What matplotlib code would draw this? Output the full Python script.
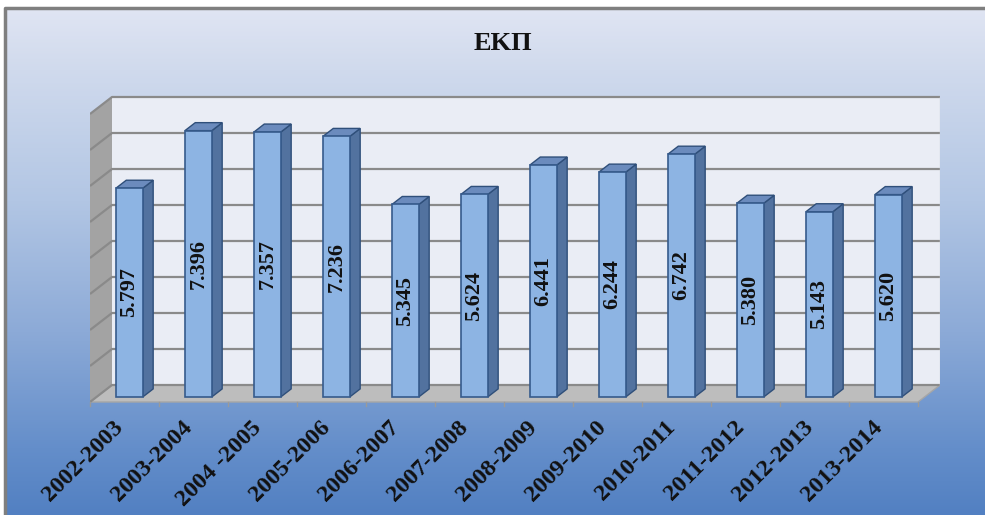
import numpy as np
import matplotlib.pyplot as plt
from matplotlib.patches import Polygon

# data
seasons = ['2002-2003', '2003-2004', '2004 -2005', '2005-2006', '2006-2007', '2007-2008',
           '2008-2009', '2009-2010', '2010-2011', '2011-2012', '2012-2013', '2013-2014']
values = [5.797, 7.396, 7.357, 7.236, 5.345, 5.624, 6.441, 6.244, 6.742, 5.380, 5.143, 5.620]
labels = ['5.797', '7.396', '7.357', '7.236', '5.345', '5.624',
          '6.441', '6.244', '6.742', '5.380', '5.143', '5.620']
title = 'ΕΚΠ'
ymax = 8

W, H = 985, 515
fig = plt.figure(figsize=(W / 100, H / 100), dpi=100)
fig.patch.set_facecolor('white')

# background gradient panel
bg = fig.add_axes([0, 0, 1, 1])
bg.set_xlim(0, W)
bg.set_ylim(H, 0)
bg.axis('off')
stops = [0.0, 0.12, 0.38, 0.64, 0.87, 1.0]
cols = np.array([[224, 229, 243], [208, 218, 237], [178, 198, 228],
                 [140, 170, 215], [100, 142, 202], [82, 128, 194]]) / 255
t = np.linspace(0, 1, 256)
grad = np.stack([np.interp(t, stops, cols[:, k]) for k in range(3)], axis=-1)[:, None, :]
bg.imshow(grad, extent=(5, W, H, 8), aspect='auto', zorder=0)
bg.plot([5, 5, W], [H, 8, 8], color='#7f7f7f', lw=2.5, zorder=1)
bg.text(503, 43, title, ha='center', va='center', fontsize=19, fontweight='bold',
        family='Liberation Serif', color='#111111')

# main plot area, scale: 69 px per category, 36 px per unit
ax = fig.add_axes([90 / W, 1 - 404 / H, 850 / W, 310 / H])
ax.set_xlim(0, 850 / 69)
ax.set_ylim(-2 / 36, -2 / 36 + 310 / 36)
ax.axis('off')
ax.patch.set_alpha(0)

DX, DY = 22 / 69, 17 / 36  # depth of the 3D box in data units
n = len(values)


def P(x, v, d):
    return (x + d * DX, v + d * DY)


# walls and floor
ax.add_patch(Polygon([P(0, 0, 1), P(n, 0, 1), P(n, ymax, 1), P(0, ymax, 1)],
                     closed=True, fc='#eaedf5', ec='none', zorder=1))
ax.add_patch(Polygon([P(0, 0, 0), P(0, 0, 1), P(0, ymax, 1), P(0, ymax, 0)],
                     closed=True, fc='#a3a3a3', ec='none', zorder=1))
ax.add_patch(Polygon([P(0, 0, 0), P(n, 0, 0), P(n, 0, 1), P(0, 0, 1)],
                     closed=True, fc='#bdbdbd', ec='#a6a6a6', lw=1, zorder=2))
for g in range(ymax + 1):
    xs, ys = zip(P(0, g, 0), P(0, g, 1), P(n, g, 1))
    ax.plot(xs, ys, color='#8a8a8a', lw=1.6, zorder=2, solid_capstyle='butt')
ax.plot(*zip(P(n, 0, 1), P(n, ymax, 1)), color='#d0d4dc', lw=1, zorder=2)
for i in range(n + 1):
    ax.plot([i, i], [0, -4 / 36], color='#9a9a9a', lw=1, zorder=2, clip_on=False)

# bars
d0, d1 = 0.3, 0.77
for i, v in enumerate(values):
    x0, x1 = i + 0.28, i + 0.67
    front = [P(x0, 0, d0), P(x1, 0, d0), P(x1, v, d0), P(x0, v, d0)]
    side = [P(x1, 0, d0), P(x1, 0, d1), P(x1, v, d1), P(x1, v, d0)]
    top = [P(x0, v, d0), P(x1, v, d0), P(x1, v, d1), P(x0, v, d1)]
    ax.add_patch(Polygon(side, closed=True, fc='#52729f', ec='#2f4f7a', lw=1, zorder=3))
    ax.add_patch(Polygon(top, closed=True, fc='#6b8bbd', ec='#2f4f7a', lw=1, zorder=3))
    ax.add_patch(Polygon(front, closed=True, fc='#8db4e3', ec='#365b8c', lw=1.2, zorder=4))
    cx, cy = P((x0 + x1) / 2, v / 2, d0)
    ax.text(cx, cy, labels[i], rotation=90, ha='center', va='center', fontsize=16,
            fontweight='bold', family='Liberation Serif', color='#111111', zorder=5)
    ax.text(i + 0.44, -0.62, seasons[i], rotation=45, rotation_mode='anchor', ha='right',
            va='center', fontsize=17.5, fontweight='bold', family='Liberation Serif',
            color='#111111', clip_on=False, zorder=5)

fig.savefig('out.png', dpi=100)
